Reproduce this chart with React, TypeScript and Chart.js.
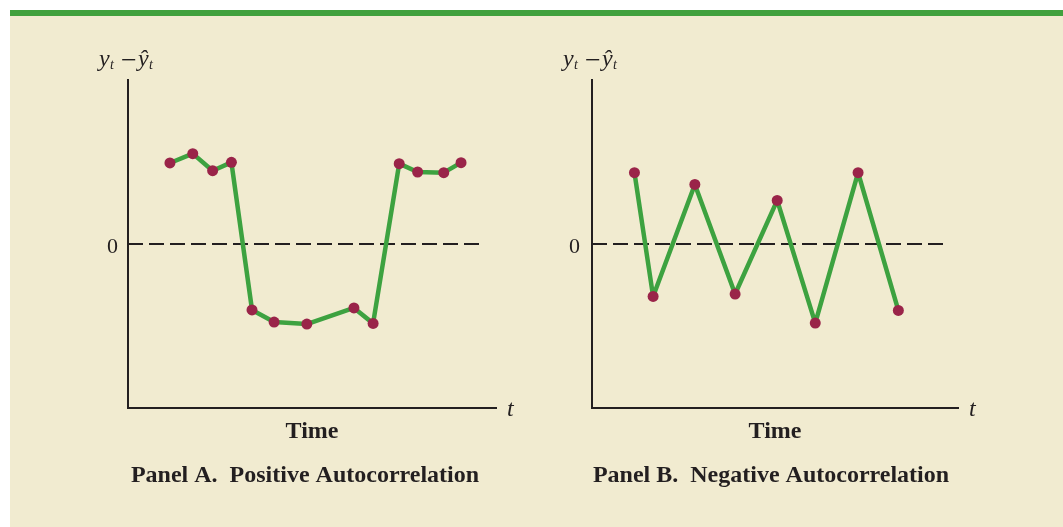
import React, { useEffect, useRef } from "react";
import { Chart, registerables } from "chart.js";

Chart.register(...registerables);

// ---------- data ----------
const panelATime = [11.4, 17.6, 23.0, 28.1, 33.7, 39.7, 48.6, 61.4, 66.6, 73.7, 78.7, 85.8, 90.5];
const panelAResidual = [4.94, 5.51, 4.47, 4.98, -4.02, -4.76, -4.88, -3.9, -4.84, 4.9, 4.39, 4.35, 4.96];

const panelBTime = [11.6, 16.7, 28.1, 39.1, 50.6, 61.0, 72.7, 83.7];
const panelBResidual = [4.35, -3.2, 3.63, -3.05, 2.66, -4.82, 4.35, -4.05];

const zeroLineTime = [0, 96.3];
const zeroLineValue = [0, 0];
const yTickValues = [0];
const xRange = [0, 100];
const yRange = [-10, 10];

const panelTitles = ["Panel A.  Positive Autocorrelation", "Panel B.  Negative Autocorrelation"];
const xAxisTitle = "Time";
const xAxisEndLabel = "t";

// ---------- style ----------
const FONT = '"Liberation Serif", "Times New Roman", Times, serif';
const INK = "#231f20";
const GREEN = "#3da240";
const MAROON = "#9a2449";
const BEIGE = "#f1ebd0";
const BAR_GREEN = "#41a13e";

Chart.defaults.font.family = FONT;

const axisLabelsPlugin = {
  id: "axisLabels",
  afterDraw(chart: any) {
    const { ctx, chartArea } = chart;
    ctx.save();
    ctx.fillStyle = INK;
    ctx.textAlign = "left";
    ctx.textBaseline = "alphabetic";
    const left = chartArea.left;
    const base = chartArea.top - 14.5;
    const parts = [
      { text: "y", font: `italic 24px ${FONT}`, dx: -29, dy: 0 },
      { text: "t", font: `italic 14px ${FONT}`, dx: -18, dy: 3.5 },
      { text: "\u2212", font: `28px ${FONT}`, dx: -7, dy: 3.5 },
      { text: "\u0177", font: `italic 24px ${FONT}`, dx: 10, dy: 0 },
      { text: "t", font: `italic 14px ${FONT}`, dx: 21, dy: 3.5 },
    ];
    for (const p of parts) {
      ctx.font = p.font;
      ctx.fillText(p.text, left + p.dx, base + p.dy);
    }
    ctx.font = `italic 24px ${FONT}`;
    ctx.fillText(xAxisEndLabel, chartArea.right + 11, chartArea.bottom + 8);
    ctx.restore();
  },
};

type PanelProps = {
  times: number[];
  values: number[];
  title: string;
  left: number;
  width: number;
  padLeft: number;
  padRight: number;
  yWidth: number;
  tickPad: number;
};

const HEIGHT = 511;

function Panel(props: PanelProps) {
  const ref = useRef<HTMLCanvasElement | null>(null);
  useEffect(() => {
    if (!ref.current) return;
    const chart = new Chart(ref.current, {
      type: "scatter",
      data: {
        datasets: [
          {
            data: props.times.map((t, i) => ({ x: t, y: props.values[i] })),
            showLine: true,
            borderColor: GREEN,
            borderWidth: 4.5,
            borderJoinStyle: "round",
            pointRadius: 5.5,
            pointBackgroundColor: MAROON,
            pointBorderColor: MAROON,
            pointBorderWidth: 0,
            order: 0,
          },
          {
            data: zeroLineTime.map((t, i) => ({ x: t, y: zeroLineValue[i] })),
            showLine: true,
            borderColor: INK,
            borderWidth: 2,
            borderDash: [15, 6],
            pointRadius: 0,
            order: 1,
          },
        ],
      },
      options: {
        responsive: false,
        animation: false,
        events: [],
        layout: { padding: { left: props.padLeft, right: props.padRight, top: 64, bottom: 36.6 } },
        plugins: {
          legend: { display: false },
          tooltip: { enabled: false },
          title: {
            display: true,
            position: "bottom",
            fullSize: true,
            text: props.title,
            color: INK,
            font: { family: FONT, size: 24, weight: "bold" },
            padding: { top: 15.2, bottom: 0 },
          },
        },
        scales: {
          x: {
            type: "linear",
            position: "bottom",
            min: xRange[0],
            max: xRange[1],
            grid: { display: false, drawTicks: false },
            border: { display: true, color: INK, width: 2 },
            ticks: { display: false },
            title: {
              display: true,
              text: xAxisTitle,
              color: INK,
              font: { family: FONT, size: 24, weight: "bold" },
              padding: { top: 0, bottom: 0 },
            },
            afterFit: (s: any) => {
              s.height = 38.4;
            },
          },
          y: {
            type: "linear",
            position: "left",
            min: yRange[0],
            max: yRange[1],
            grid: { display: false, drawTicks: false },
            border: { display: true, color: INK, width: 2 },
            ticks: {
              color: INK,
              mirror: true,
              padding: props.tickPad,
              labelOffset: 3,
              font: { family: FONT, size: 22 },
            },
            afterBuildTicks: (s: any) => {
              s.ticks = yTickValues.map((v) => ({ value: v }));
            },
            afterFit: (s: any) => {
              s.width = props.yWidth;
            },
          },
        },
      } as any,
      plugins: [axisLabelsPlugin],
    });
    return () => chart.destroy();
  }, []);
  return (
    <canvas
      ref={ref}
      width={props.width}
      height={HEIGHT}
      style={{ position: "absolute", left: props.left, top: 16, width: props.width, height: HEIGHT }}
    />
  );
}

export default function App() {
  return (
    <div
      style={{
        position: "absolute",
        left: 0,
        top: 0,
        width: 1063,
        height: 527,
        background: "#ffffff",
        overflow: "hidden",
      }}
    >
      <div style={{ position: "absolute", left: 10, top: 10, width: 1053, height: 6, background: BAR_GREEN }} />
      <div style={{ position: "absolute", left: 10, top: 16, width: 1053, height: 511, background: BEIGE }} />
      <Panel
        times={panelATime}
        values={panelAResidual}
        title={panelTitles[0]}
        left={10}
        width={520}
        padLeft={104}
        padRight={34}
        yWidth={14}
        tickPad={-21}
      />
      <Panel
        times={panelBTime}
        values={panelBResidual}
        title={panelTitles[1]}
        left={532}
        width={531}
        padLeft={52}
        padRight={105}
        yWidth={8}
        tickPad={-23}
      />
    </div>
  );
}
